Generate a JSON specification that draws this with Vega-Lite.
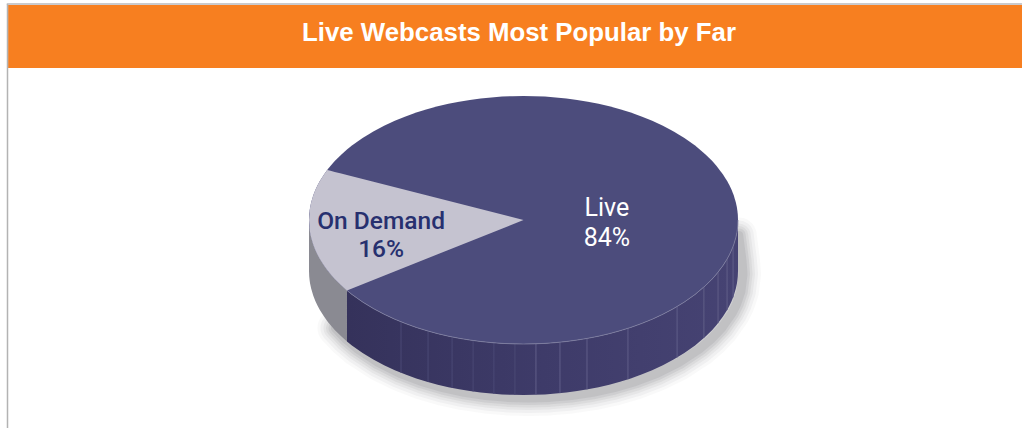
{
"$schema":"https://vega.github.io/schema/vega-lite/v6.json",
"width":1022,"height":428,"padding":0,
"autosize":"none",
"background":"#ffffff",
"view":{"stroke":null},
"datasets":{
"rim":[
{"x":-100,"top":0,"front":0,"base":-41.13},
{"x":-99.9,"top":4.47,"front":-4.47,"base":-45.6},
{"x":-99.7,"top":7.74,"front":-7.74,"base":-48.87},
{"x":-99.5,"top":9.99,"front":-9.99,"base":-51.12},
{"x":-99,"top":14.11,"front":-14.11,"base":-55.24},
{"x":-98,"top":19.9,"front":-19.9,"base":-61.03},
{"x":-97,"top":24.31,"front":-24.31,"base":-65.44},
{"x":-96,"top":28,"front":-28,"base":-69.13},
{"x":-95,"top":31.22,"front":-31.22,"base":-72.35},
{"x":-93,"top":36.76,"front":-36.76,"base":-77.89},
{"x":-91.1,"top":41.24,"front":-41.24,"base":-82.37},
{"x":-90,"top":43.59,"front":-43.59,"base":-84.72},
{"x":-88,"top":47.5,"front":-47.5,"base":-88.63},
{"x":-85,"top":52.68,"front":-52.68,"base":-93.81},
{"x":-82.3,"top":56.8,"front":-56.8,"base":-97.93},
{"x":-80,"top":60,"front":-60,"base":-101.13},
{"x":-75,"top":66.14,"front":-66.14,"base":-107.27},
{"x":-70,"top":71.41,"front":-71.41,"base":-112.54},
{"x":-65,"top":75.99,"front":-75.99,"base":-117.12},
{"x":-60,"top":80,"front":-80,"base":-121.13},
{"x":-55,"top":83.52,"front":-83.52,"base":-124.65},
{"x":-50,"top":86.6,"front":-86.6,"base":-127.73},
{"x":-45,"top":89.3,"front":-89.3,"base":-130.43},
{"x":-40,"top":91.65,"front":-91.65,"base":-132.78},
{"x":-35,"top":93.67,"front":-93.67,"base":-134.8},
{"x":-30,"top":95.39,"front":-95.39,"base":-136.52},
{"x":-25,"top":96.82,"front":-96.82,"base":-137.95},
{"x":-20,"top":97.98,"front":-97.98,"base":-139.11},
{"x":-15,"top":98.87,"front":-98.87,"base":-140},
{"x":-10,"top":99.5,"front":-99.5,"base":-140.63},
{"x":-5,"top":99.87,"front":-99.87,"base":-141},
{"x":0,"top":100,"front":-100,"base":-141.13},
{"x":5,"top":99.87,"front":-99.87,"base":-141},
{"x":10,"top":99.5,"front":-99.5,"base":-140.63},
{"x":15,"top":98.87,"front":-98.87,"base":-140},
{"x":20,"top":97.98,"front":-97.98,"base":-139.11},
{"x":25,"top":96.82,"front":-96.82,"base":-137.95},
{"x":30,"top":95.39,"front":-95.39,"base":-136.52},
{"x":35,"top":93.67,"front":-93.67,"base":-134.8},
{"x":40,"top":91.65,"front":-91.65,"base":-132.78},
{"x":45,"top":89.3,"front":-89.3,"base":-130.43},
{"x":50,"top":86.6,"front":-86.6,"base":-127.73},
{"x":55,"top":83.52,"front":-83.52,"base":-124.65},
{"x":60,"top":80,"front":-80,"base":-121.13},
{"x":65,"top":75.99,"front":-75.99,"base":-117.12},
{"x":70,"top":71.41,"front":-71.41,"base":-112.54},
{"x":75,"top":66.14,"front":-66.14,"base":-107.27},
{"x":80,"top":60,"front":-60,"base":-101.13},
{"x":85,"top":52.68,"front":-52.68,"base":-93.81},
{"x":88,"top":47.5,"front":-47.5,"base":-88.63},
{"x":90,"top":43.59,"front":-43.59,"base":-84.72},
{"x":93,"top":36.76,"front":-36.76,"base":-77.89},
{"x":95,"top":31.22,"front":-31.22,"base":-72.35},
{"x":96,"top":28,"front":-28,"base":-69.13},
{"x":97,"top":24.31,"front":-24.31,"base":-65.44},
{"x":98,"top":19.9,"front":-19.9,"base":-61.03},
{"x":99,"top":14.11,"front":-14.11,"base":-55.24},
{"x":99.5,"top":9.99,"front":-9.99,"base":-51.12},
{"x":99.7,"top":7.74,"front":-7.74,"base":-48.87},
{"x":99.9,"top":4.47,"front":-4.47,"base":-45.6},
{"x":100,"top":0,"front":0,"base":-41.13}
],
"wedge":[
{"x":-100,"top":0,"bottom":0},
{"x":-99.5,"top":9.99,"bottom":-9.99},
{"x":-99,"top":14.11,"bottom":-14.11},
{"x":-98,"top":19.9,"bottom":-19.9},
{"x":-97,"top":24.31,"bottom":-24.31},
{"x":-96,"top":28,"bottom":-28},
{"x":-95,"top":31.22,"bottom":-31.22},
{"x":-93,"top":36.76,"bottom":-36.76},
{"x":-91.5,"top":40.34,"bottom":-40.34},
{"x":-90,"top":39.68,"bottom":-43.59},
{"x":-88,"top":38.8,"bottom":-47.5},
{"x":-85,"top":37.48,"bottom":-52.68},
{"x":-82.3,"top":36.28,"bottom":-56.8},
{"x":0,"top":0,"bottom":0}
],
"shadow":[
{"x":98,"base":-10},{"x":99.5,"base":-30},{"x":100,"base":-41.13},{"x":99,"base":-55.24},{"x":97,"base":-65.44},{"x":95,"base":-72.35},{"x":90,"base":-84.72},{"x":85,"base":-93.81},{"x":80,"base":-101.13},{"x":70,"base":-112.54},{"x":60,"base":-121.13},{"x":50,"base":-127.73},{"x":40,"base":-132.78},{"x":30,"base":-136.52},{"x":20,"base":-139.11},{"x":10,"base":-140.63},{"x":0,"base":-141.13},{"x":-10,"base":-140.63},{"x":-20,"base":-139.11},{"x":-30,"base":-136.52},{"x":-40,"base":-132.78},{"x":-50,"base":-127.73},{"x":-60,"base":-121.13},{"x":-70,"base":-112.54},{"x":-80,"base":-101.13},{"x":-85,"base":-93.81},{"x":-90,"base":-84.72}
],
"facets":[
{"x":-57.1,"front":-82.1,"base":-123.23},
{"x":-44.5,"front":-89.55,"base":-130.68},
{"x":-33.3,"front":-94.29,"base":-135.42},
{"x":-23.5,"front":-97.2,"base":-138.33},
{"x":-13.8,"front":-99.04,"base":-140.17},
{"x":-4,"front":-99.92,"base":-141.05},
{"x":5.8,"front":-99.83,"base":-140.96},
{"x":17,"front":-98.54,"base":-139.67},
{"x":29.6,"front":-95.52,"base":-136.65},
{"x":48.7,"front":-87.34,"base":-128.47},
{"x":71.6,"front":-69.81,"base":-110.94},
{"x":84.1,"front":-54.1,"base":-95.23},
{"x":90.7,"front":-42.12,"base":-83.25},
{"x":94.9,"front":-31.53,"base":-72.66},
{"x":97.7,"front":-21.33,"base":-62.46}
]
},
"data":{"name":"rim"},
"encoding":{"x":{"field":"x","type":"quantitative","axis":null,"scale":{"domain":[-244.06,232.4],"nice":false,"zero":false}}},
"layer":[
{"data":{"values":[{"x":-240.3,"x2":232.4,"y":173.39,"y2":122.6}]},
 "mark":{"type":"rect","color":"#f77f20"},
 "encoding":{"x2":{"field":"x2"},"y":{"field":"y","type":"quantitative","axis":null,"scale":{"domain":[-167.74,177.42],"nice":false,"zero":false}},"y2":{"field":"y2"}}},
{"data":{"values":[{"x":-240.56,"y":174.2,"y2":-167.74}]},
 "mark":{"type":"rule","color":"#b3b3b3","strokeWidth":1.5},
 "encoding":{"y":{"field":"y","type":"quantitative","axis":null,"scale":{"domain":[-167.74,177.42],"nice":false,"zero":false}},"y2":{"field":"y2"}}},
{"data":{"values":[{"x":-240.9,"x2":232.4,"y":174.2}]},
 "mark":{"type":"rule","color":"#b9b9bd","strokeWidth":1.5},
 "encoding":{"x2":{"field":"x2"},"y":{"field":"y","type":"quantitative","axis":null,"scale":{"domain":[-167.74,177.42],"nice":false,"zero":false}}}},
{"data":{"name":"shadow"},"mark":{"type":"line","color":"#50505a","opacity":0.035,"strokeWidth":36,"strokeCap":"round","strokeJoin":"round","xOffset":5,"yOffset":3},
 "encoding":{"order":{"value":null},"y":{"field":"base","type":"quantitative","axis":null,"scale":{"domain":[-167.74,177.42],"nice":false,"zero":false}}}},
{"data":{"name":"shadow"},"mark":{"type":"line","color":"#50505a","opacity":0.05,"strokeWidth":30,"strokeCap":"round","strokeJoin":"round","xOffset":5,"yOffset":3},
 "encoding":{"order":{"value":null},"y":{"field":"base","type":"quantitative","axis":null,"scale":{"domain":[-167.74,177.42],"nice":false,"zero":false}}}},
{"data":{"name":"shadow"},"mark":{"type":"line","color":"#50505a","opacity":0.06,"strokeWidth":24,"strokeCap":"round","strokeJoin":"round","xOffset":5,"yOffset":3},
 "encoding":{"order":{"value":null},"y":{"field":"base","type":"quantitative","axis":null,"scale":{"domain":[-167.74,177.42],"nice":false,"zero":false}}}},
{"data":{"name":"shadow"},"mark":{"type":"line","color":"#50505a","opacity":0.07,"strokeWidth":19,"strokeCap":"round","strokeJoin":"round","xOffset":5,"yOffset":3},
 "encoding":{"order":{"value":null},"y":{"field":"base","type":"quantitative","axis":null,"scale":{"domain":[-167.74,177.42],"nice":false,"zero":false}}}},
{"data":{"name":"shadow"},"mark":{"type":"line","color":"#50505a","opacity":0.09,"strokeWidth":14,"strokeCap":"round","strokeJoin":"round","xOffset":5,"yOffset":3},
 "encoding":{"order":{"value":null},"y":{"field":"base","type":"quantitative","axis":null,"scale":{"domain":[-167.74,177.42],"nice":false,"zero":false}}}},
{"data":{"name":"shadow"},"mark":{"type":"line","color":"#50505a","opacity":0.1,"strokeWidth":9,"strokeCap":"round","strokeJoin":"round","xOffset":5,"yOffset":3},
 "encoding":{"order":{"value":null},"y":{"field":"base","type":"quantitative","axis":null,"scale":{"domain":[-167.74,177.42],"nice":false,"zero":false}}}},
{"transform":[{"filter":"datum.x <= -82.3"}],"mark":{"type":"area","color":"#8a8a92"},
 "encoding":{"y":{"field":"front","type":"quantitative","axis":null,"scale":{"domain":[-167.74,177.42],"nice":false,"zero":false}},"y2":{"field":"base"}}},
{"transform":[{"filter":"datum.x >= -82.3"}],
 "mark":{"type":"area","color":{"gradient":"linear","x1":0,"y1":0,"x2":1,"y2":0,"stops":[{"offset":0,"color":"#35325b"},{"offset":0.5,"color":"#3e3b69"},{"offset":1,"color":"#464373"}]}},
 "encoding":{"y":{"field":"front","type":"quantitative","axis":null,"scale":{"domain":[-167.74,177.42],"nice":false,"zero":false}},"y2":{"field":"base"}}},
{"data":{"name":"facets"},"transform":[{"filter":"datum.x < 0"}],"mark":{"type":"rule","color":"#4b4975","strokeWidth":1},
 "encoding":{"y":{"field":"front","type":"quantitative","axis":null,"scale":{"domain":[-167.74,177.42],"nice":false,"zero":false}},"y2":{"field":"base"}}},
{"data":{"name":"facets"},"transform":[{"filter":"datum.x >= 0"}],"mark":{"type":"rule","color":"#605e88","strokeWidth":1},
 "encoding":{"y":{"field":"front","type":"quantitative","axis":null,"scale":{"domain":[-167.74,177.42],"nice":false,"zero":false}},"y2":{"field":"base"}}},
{"mark":{"type":"area","color":"#4c4c7c"},
 "encoding":{"y":{"field":"top","type":"quantitative","axis":null,"scale":{"domain":[-167.74,177.42],"nice":false,"zero":false}},"y2":{"field":"front"}}},
{"transform":[{"filter":"datum.x >= -82.3"}],"mark":{"type":"line","color":"#7e7da0","strokeWidth":0.8},
 "encoding":{"y":{"field":"front","type":"quantitative","axis":null,"scale":{"domain":[-167.74,177.42],"nice":false,"zero":false}}}},
{"data":{"name":"wedge"},"mark":{"type":"area","color":"#c5c3d0"},
 "encoding":{"y":{"field":"top","type":"quantitative","axis":null,"scale":{"domain":[-167.74,177.42],"nice":false,"zero":false}},"y2":{"field":"bottom"}}},
{"data":{"values":[{"label":"Live Webcasts Most Popular by Far","x":-2.1,"y":144.4}]},
 "mark":{"type":"text","color":"#ffffff","font":"Liberation Sans","fontWeight":"bold","fontSize":25.8,"align":"center","baseline":"alphabetic"},
 "encoding":{"text":{"field":"label"},"y":{"field":"y","type":"quantitative","axis":null,"scale":{"domain":[-167.74,177.42],"nice":false,"zero":false}}}},
{"data":{"values":[{"label":"Live","x":38.9,"y":3.2},{"label":"84%","x":38.9,"y":-21.0}]},
 "mark":{"type":"text","color":"#ffffff","font":"Roboto","fontSize":25,"align":"center","baseline":"alphabetic"},
 "encoding":{"text":{"field":"label"},"y":{"field":"y","type":"quantitative","axis":null,"scale":{"domain":[-167.74,177.42],"nice":false,"zero":false}}}},
{"data":{"values":[{"label":"On Demand","x":-66.4,"y":-7.3},{"label":"16%","x":-66.4,"y":-29.8}]},
 "mark":{"type":"text","color":"#27306f","font":"Roboto","fontWeight":500,"fontSize":24.5,"align":"center","baseline":"alphabetic"},
 "encoding":{"text":{"field":"label"},"y":{"field":"y","type":"quantitative","axis":null,"scale":{"domain":[-167.74,177.42],"nice":false,"zero":false}}}}
]
}
